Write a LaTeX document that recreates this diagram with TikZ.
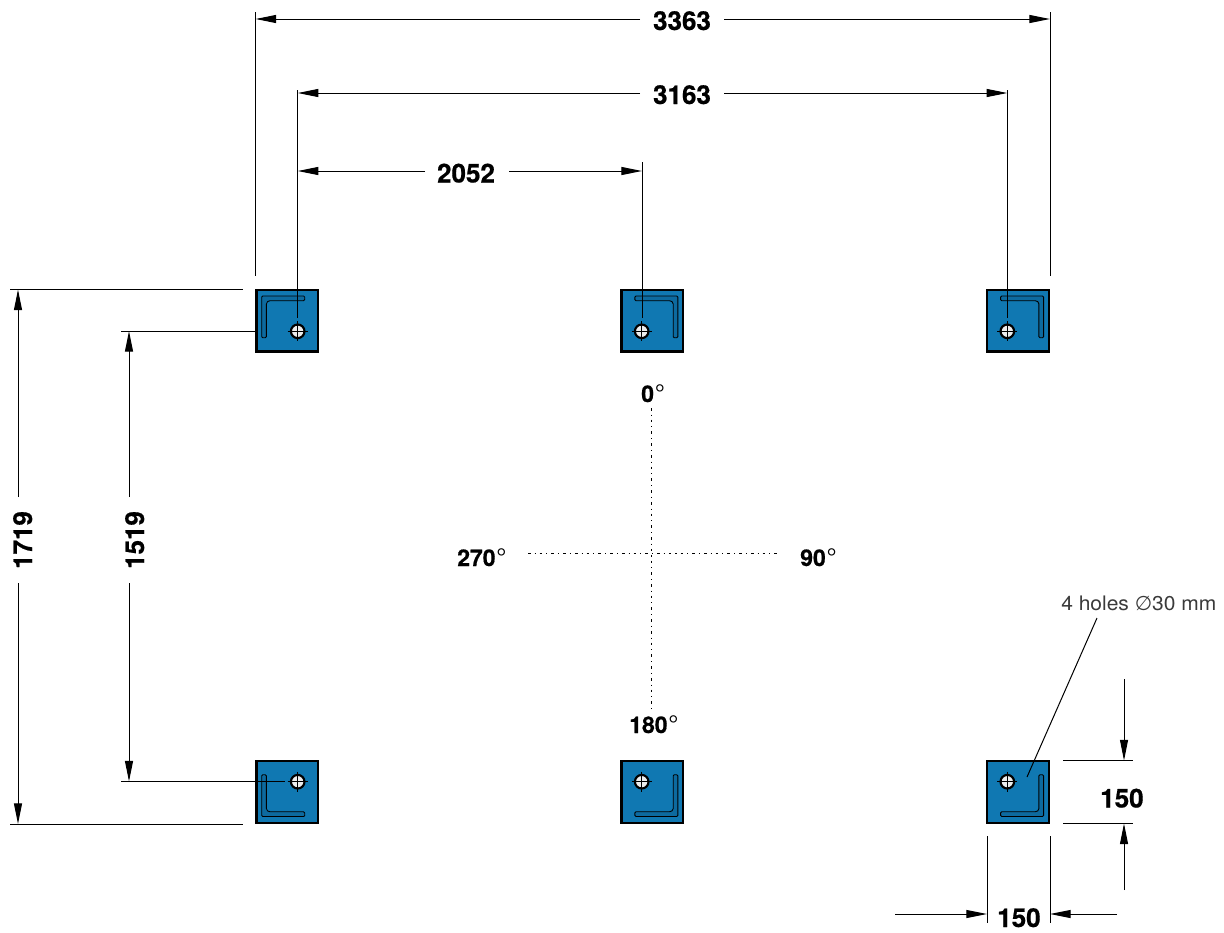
\documentclass[tikz,border=0pt]{standalone}
\usepackage{fontspec}
\setmainfont{TeX Gyre Heros}
\newfontfamily\symfont{DejaVu Sans}
\newfontfamily\heavyfont[FakeBold=0.6]{TeX Gyre Heros Bold}
\newfontfamily\notefont[FakeStretch=1.05]{TeX Gyre Heros}
\usetikzlibrary{arrows.meta}
\definecolor{plateblue}{HTML}{1078B2}
\definecolor{ironblue}{HTML}{0D6A9F}
\definecolor{thintext}{HTML}{3A3A3A}
\tikzset{
  x=0.75pt,y=-0.75pt,
  thinline/.style={line width=0.75pt,black},
  dimarrow/.style={thinline,-{Triangle[length=15.5pt,width=6pt]}},
  plate/.style={draw=black,line width=1.8pt,fill=plateblue,minimum size=46.2pt,inner sep=0pt,outer sep=0pt},
  holecirc/.style={circle,draw=black,line width=1.6pt,fill=white!93!black,minimum size=10.2pt,inner sep=0pt},
  ironpath/.style={draw=black,line width=0.65pt,fill=ironblue,rounded corners=0.8pt},
  dimlabel/.style={inner sep=0pt,font=\fontsize{19.5pt}{22pt}\selectfont\heavyfont},
  anglabel/.style={inner sep=0pt,anchor=base west,font=\fontsize{17.2pt}{20pt}\selectfont\heavyfont},
  notelabel/.style={inner sep=0pt,anchor=base west,text=thintext,font=\fontsize{15pt}{18pt}\selectfont\notefont},
  axisline/.style={line width=0.75pt,black,dash pattern=on 2pt off 3pt on 0.8pt off 3pt},
}
\newcommand{\degsign}{\hspace{0.6pt}{\fontsize{19pt}{20pt}\selectfont\rmfamily °}}
\newcommand{\plateat}[7]{% name cx cy sx sy holex holey
  \node[plate] (#1) at (#2,#3) {};
  \begin{scope}[shift={(#2,#3)},xscale=#4,yscale=#5]
    \path[ironpath] (-25.6,-24.5) -- (17.4,-24.5) -- (17.4,-19.8) -- (-16,-19.8)
      .. controls (-19,-19.8) and (-20.9,-18.5) .. (-20.9,-15.5) -- (-20.9,17.2) -- (-25.6,17.2) -- cycle;
  \end{scope}
  \node[holecirc] (#1h) at (#6,#7) {};
  \coordinate (#1hl) at (#6-10,#7);\coordinate (#1hr) at (#6+10,#7);
  \coordinate (#1ht) at (#6,#7-10);\coordinate (#1hb) at (#6,#7+10);
  \draw[line width=0.6pt] (#1hl) -- (#1hr) (#1ht) -- (#1hb);
}
\begin{document}
\begin{tikzpicture}
\useasboundingbox (0,0) rectangle (1224,932);
% plates
\plateat{pa}{287.3}{320.5}{1}{1}{297.7}{331.3}
\plateat{pb}{652.3}{320.5}{-1}{1}{641.7}{331.3}
\plateat{pc}{1018}{320.5}{-1}{1}{1007.3}{331.3}
\plateat{pd}{287.3}{792}{1}{-1}{297.7}{781.7}
\plateat{pe}{652.3}{792}{-1}{-1}{641.7}{781.7}
\plateat{pf}{1018}{792}{-1}{-1}{1007.3}{781.7}
% horizontal top dimensions
\node[dimlabel,anchor=base] (t3363) at (682,30) {3363};
\node[dimlabel,anchor=base] (t3163) at (682,104) {3163};
\node[dimlabel,anchor=base] (t2052) at (466,182.5) {2052};
\coordinate (e1t) at (255.5,12);\coordinate (e1b) at (255.5,276);
\coordinate (e2t) at (1050,12);\coordinate (e2b) at (1050,276);
\coordinate (e3t) at (297.7,90);\coordinate (e3b) at (297.7,318);
\coordinate (e4t) at (1007.3,90);\coordinate (e4b) at (1007.3,318);
\coordinate (e5t) at (642,162);\coordinate (e5b) at (642,318);
\draw[thinline] (e1t)--(e1b) (e2t)--(e2b) (e3t)--(e3b) (e4t)--(e4b) (e5t)--(e5b);
\coordinate (a1l) at (640,19);\coordinate (a1r) at (724,19);
\coordinate (a1L) at (255.5,19);\coordinate (a1R) at (1050,19);
\draw[dimarrow] (a1l)--(a1L); \draw[dimarrow] (a1r)--(a1R);
\coordinate (a2l) at (640,93);\coordinate (a2r) at (724,93);
\coordinate (a2L) at (297.7,93);\coordinate (a2R) at (1007.3,93);
\draw[dimarrow] (a2l)--(a2L); \draw[dimarrow] (a2r)--(a2R);
\coordinate (a3l) at (425,171);\coordinate (a3r) at (509,171);
\coordinate (a3L) at (297.7,171);\coordinate (a3R) at (642,171);
\draw[dimarrow] (a3l)--(a3L); \draw[dimarrow] (a3r)--(a3R);
% left dimensions
\node[dimlabel,anchor=base,rotate=90] (t1719) at (32,540) {1719};
\node[dimlabel,anchor=base,rotate=90] (t1519) at (144,540) {1519};
\coordinate (h1l) at (10,289.5);\coordinate (h1r) at (243,289.5);
\coordinate (h2l) at (10,824);\coordinate (h2r) at (243,824);
\draw[thinline] (h1l)--(h1r) (h2l)--(h2r);
\coordinate (h3l) at (121,331);\coordinate (h4l) at (121,781.5);\coordinate (h4r) at (285,781.5);
\draw[thinline] (h3l)--(pa.west |- h3l) (h4l)--(h4r);
\coordinate (b1t) at (18,497);\coordinate (b1T) at (18,289.5);
\coordinate (b1b) at (18,583);\coordinate (b1B) at (18,824);
\draw[dimarrow] (b1t)--(b1T); \draw[dimarrow] (b1b)--(b1B);
\coordinate (b2t) at (129,497);\coordinate (b2T) at (129,331);
\coordinate (b2b) at (129,583);\coordinate (b2B) at (129,781.5);
\draw[dimarrow] (b2t)--(b2T); \draw[dimarrow] (b2b)--(b2B);
% axes
\coordinate (axT) at (651.5,408);\coordinate (axB) at (651.5,712);
\coordinate (axL) at (528,553);\coordinate (axR) at (779,553);
\draw[axisline] (axT)--(axB);
\draw[axisline] (axL)--(axR);
\node[anglabel] (a0) at (641,402) {0\degsign};
\node[anglabel] (a270) at (457,566) {270\degsign};
\node[anglabel] (a90) at (800,566) {90\degsign};
\node[anglabel] (a180) at (629,733) {180\degsign};
% 150 dimensions
\node[dimlabel,anchor=base west] (t150r) at (1100,807.5) {150};
\node[dimlabel,anchor=base west] (t150b) at (997,927) {150};
\coordinate (r1l) at (1063,760.5);\coordinate (r1r) at (1133,760.5);
\coordinate (r2l) at (1063,823.5);\coordinate (r2r) at (1133,823.5);
\draw[thinline] (r1l)--(r1r) (r2l)--(r2r);
\coordinate (v1s) at (1124,679);\coordinate (v1e) at (1124,760.5);
\coordinate (v2s) at (1124,890);\coordinate (v2e) at (1124,823.5);
\draw[dimarrow] (v1s)--(v1e); \draw[dimarrow] (v2s)--(v2e);
\coordinate (x1t) at (987,836);\coordinate (x1b) at (987,923);
\coordinate (x2t) at (1050,836);\coordinate (x2b) at (1050,923);
\draw[thinline] (x1t)--(x1b) (x2t)--(x2b);
\coordinate (w1s) at (895,914);\coordinate (w1e) at (987,914);
\coordinate (w2s) at (1117,914);\coordinate (w2e) at (1050,914);
\draw[dimarrow] (w1s)--(w1e); \draw[dimarrow] (w2s)--(w2e);
% note
\node[notelabel] (note) at (1061,610) {4 holes {\symfont ∅}30 mm};
\coordinate (lead1) at (1097,618);\coordinate (lead2) at (1027,777);
\draw[thinline] (lead1)--(lead2);
\end{tikzpicture}
\end{document}
